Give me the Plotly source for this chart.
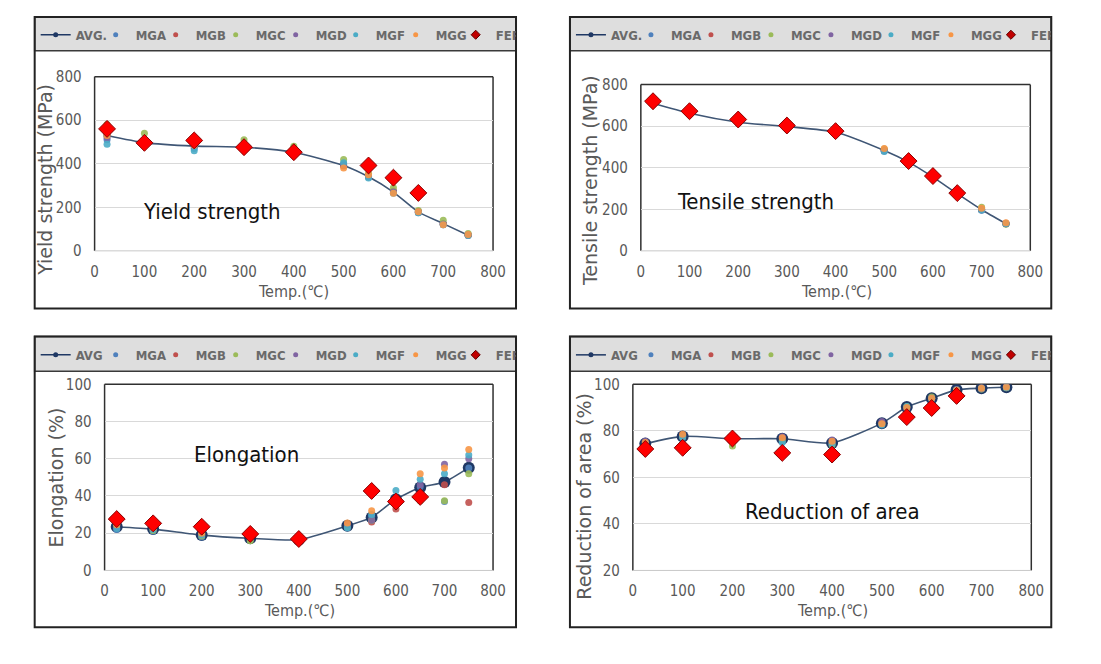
import plotly.graph_objects as go

# The page keeps the browser's default 8px body margin, so the figure is made
# 16px smaller than the window. Layout positions below are given in picture pixels
# and mapped to page pixels with the small scale/offset measured on the photograph.
PAGE_W, PAGE_H = 1101, 664
OFF = 8
W, H = PAGE_W - 2 * OFF, PAGE_H - 2 * OFF
SX, CX = 0.9857, 3.4
SY, CY = 0.9765, 8.3

# ---------------- data ----------------
temp = [25, 100, 200, 300, 400, 500, 550, 600, 650, 700, 750]

ys_avg = [530, 497, 481, 476, 453, 392, 340, 270, 179, 125, 72]
ys_mga = [510, 495, 470, 470, 450, 400, 340, 270, 175, 120, 75]
ys_mgb = [540, 500, 490, 475, 455, 390, 345, 275, 180, 125, 72]
ys_mgc = [580, 540, 500, 510, 480, 420, 355, 290, 185, 140, 80]
ys_mgd = [520, 495, 480, 475, 450, 395, 340, 270, 178, 122, 73]
ys_mgf = [490, 490, 460, 465, 445, 405, 335, 265, 175, 120, 70]
ys_mgg = [530, 500, 485, 475, 455, 380, 350, 265, 180, 120, 75]
ys_fep = [560, 496, 507, 476, 453, None, 392, 336, 266, None, None]

ts_avg = [710, 662, 619, 598, 571, 483, 427, 355, 275, 198, 131]
ts_mga = [705, 660, 615, 595, 570, 480, 425, 355, 275, 195, 130]
ts_mgb = [715, 665, 620, 600, 572, 485, 430, 358, 278, 200, 133]
ts_mgc = [712, 664, 622, 600, 575, 490, 428, 352, 272, 210, 128]
ts_mgd = [708, 660, 618, 597, 570, 482, 425, 354, 274, 198, 131]
ts_mgf = [706, 658, 616, 596, 568, 478, 426, 356, 276, 196, 132]
ts_mgg = [714, 666, 622, 600, 573, 492, 430, 357, 277, 205, 135]
ts_fep = [720, 672, 632, 603, 576, None, 432, 360, 278, None, None]

el_avg = [23.5, 22.2, 19.0, 17.3, 16.5, 24.0, 28.5, 38.3, 44.5, 47.5, 55.2]
el_mga = [22.0, 21.0, 18.0, 16.5, 16.0, 23.0, 29.0, 37.0, 45.0, 37.0, 55.0]
el_mgb = [24.0, 22.0, 19.0, 17.0, 17.0, 24.0, 26.0, 33.0, 40.0, 46.0, 36.5]
el_mgc = [25.0, 21.5, 18.5, 16.0, 16.0, 23.5, 27.0, 36.0, 37.5, 37.5, 52.0]
el_mgd = [23.0, 22.5, 19.5, 18.0, 16.5, 24.5, 27.0, 38.0, 46.0, 57.0, 60.0]
el_mgf = [22.5, 22.0, 19.0, 17.5, 17.0, 23.0, 30.0, 43.0, 49.0, 52.0, 62.0]
el_mgg = [24.5, 23.0, 20.0, 18.0, 17.0, 25.5, 32.0, 39.0, 52.0, 55.0, 65.0]
el_fep = [27.6, 25.3, 23.5, 19.6, 16.9, None, 42.7, 37.0, 39.5, None, None]

ra_avg = [74.5, 77.6, 76.6, 76.6, 74.8, 83.3, 90.2, 94.0, 97.6, 98.3, 98.7]
ra_mga = [75.0, 77.0, 76.0, 75.5, 74.0, 83.0, 89.5, 93.5, 97.0, 98.0, 98.5]
ra_mgb = [74.0, 78.0, 77.5, 77.0, 75.0, 83.5, 90.0, 94.0, 97.5, 98.5, 99.0]
ra_mgc = [73.5, 77.5, 73.5, 76.0, 74.0, 83.0, 90.5, 94.5, 97.5, 98.0, 98.5]
ra_mgd = [75.5, 78.0, 76.5, 77.5, 76.0, 84.0, 90.0, 94.0, 97.8, 98.2, 98.8]
ra_mgf = [74.0, 77.5, 76.0, 75.0, 74.5, 82.5, 90.5, 94.0, 97.5, 98.4, 98.6]
ra_mgg = [75.0, 78.5, 78.0, 77.0, 75.5, 83.0, 90.0, 94.0, 97.4, 98.3, 98.8]
ra_fep = [72.2, 72.7, 76.7, 70.5, 69.8, None, 85.9, 89.8, 95.0, None, None]

series_names = ["MGA", "MGB", "MGC", "MGD", "MGF", "MGG"]
series_colors = ["#4f81bd", "#c0504d", "#9bbb59", "#8064a2", "#4bacc6", "#f79646"]

x_ticks = [0, 100, 200, 300, 400, 500, 600, 700, 800]
x_title = "Temp.(℃)"

# ---------------- style ----------------
NARROW = "Liberation Sans Narrow, Arial Narrow, DejaVu Sans Condensed, sans-serif"
WIDE = "DejaVu Sans, Verdana, sans-serif"
TICK_COLOR = "#595959"

panels = [
    dict(avg_name="AVG.", avg=ys_avg, mg=[ys_mga, ys_mgb, ys_mgc, ys_mgd, ys_mgf, ys_mgg], fep=ys_fep,
         yrange=[0, 800], ytick=[0, 200, 400, 600, 800], ytitle="Yield strength (MPa)", label="Yield strength",
         box=(34, 16, 516, 309), bar=34, plot=(94, 76, 493, 251), ytitle_xy=(45, 180), xtitle_xy=(293, 292),
         label_xy=(212, 211), avg_size=7),
    dict(avg_name="AVG.", avg=ts_avg, mg=[ts_mga, ts_mgb, ts_mgc, ts_mgd, ts_mgf, ts_mgg], fep=ts_fep,
         yrange=[0, 800], ytick=[0, 200, 400, 600, 800], ytitle="Tensile strength (MPa)", label="Tensile strength",
         box=(570, 16, 1052, 309), bar=34, plot=(641, 84, 1031, 251), ytitle_xy=(590, 180), xtitle_xy=(837, 292),
         label_xy=(756, 201), avg_size=7),
    dict(avg_name="AVG", avg=el_avg, mg=[el_mga, el_mgb, el_mgc, el_mgd, el_mgf, el_mgg], fep=el_fep,
         yrange=[0, 100], ytick=[0, 20, 40, 60, 80, 100], ytitle="Elongation (%)", label="Elongation",
         box=(34, 337, 516, 629), bar=35, plot=(104, 385, 493, 572), ytitle_xy=(55, 479), xtitle_xy=(299, 612),
         label_xy=(246, 456), avg_size=12),
    dict(avg_name="AVG", avg=ra_avg, mg=[ra_mga, ra_mgb, ra_mgc, ra_mgd, ra_mgf, ra_mgg], fep=ra_fep,
         yrange=[20, 100], ytick=[20, 40, 60, 80, 100], ytitle="Reduction of area (%)", label="Reduction of area",
         box=(570, 337, 1052, 629), bar=35, plot=(633, 385, 1032, 572), ytitle_xy=(584, 497), xtitle_xy=(833, 612),
         label_xy=(833, 513), avg_size=12),
]


def fx(px):
    page = (px - CX) / SX
    return (page - OFF) / W


def fy(py):
    page = (py - CY) / SY
    return 1 - (page - OFF) / H


fig = go.Figure()
shapes = []
annotations = []
layout = dict(
    width=W, height=H, margin=dict(l=0, r=0, t=0, b=0),
    paper_bgcolor="white", plot_bgcolor="white", showlegend=True,
)

for i, p in enumerate(panels):
    n = "" if i == 0 else str(i + 1)
    xa, ya = "x" + n, "y" + n
    leg = "legend" + n
    x0, y0, x1, y1 = p["plot"]
    bx0, by0, bx1, by1 = p["box"]

    # --- data traces ---
    fig.add_trace(go.Scatter(
        x=temp, y=p["avg"], mode="lines+markers", name=p["avg_name"], xaxis=xa, yaxis=ya,
        line=dict(color="#3f5675", width=1.6, shape="spline", smoothing=0.6),
        marker=dict(color="#1f3864", size=p["avg_size"]), showlegend=False, legend=leg))
    for nm, col, vals in zip(series_names, series_colors, p["mg"]):
        fig.add_trace(go.Scatter(
            x=temp, y=vals, mode="markers", name=nm, xaxis=xa, yaxis=ya,
            marker=dict(color=col, size=7, opacity=0.9), showlegend=False, legend=leg))
    fig.add_trace(go.Scatter(
        x=temp, y=p["fep"], mode="markers", name="FEP", xaxis=xa, yaxis=ya,
        marker=dict(color="#ff0000", size=13, symbol="diamond", line=dict(color="#8b0000", width=1)),
        showlegend=False, legend=leg))

    # --- legend-only traces (small symbols as in the original legend) ---
    fig.add_trace(go.Scatter(
        x=[None], y=[None], mode="lines+markers", name=p["avg_name"], xaxis=xa, yaxis=ya,
        line=dict(color="#1f3864", width=1.5), marker=dict(color="#1f3864", size=5), legend=leg))
    for nm, col in zip(series_names, series_colors):
        fig.add_trace(go.Scatter(
            x=[None], y=[None], mode="markers", name=nm, xaxis=xa, yaxis=ya,
            marker=dict(color=col, size=5), legend=leg))
    fig.add_trace(go.Scatter(
        x=[None], y=[None], mode="markers", name="FEP", xaxis=xa, yaxis=ya,
        marker=dict(color="#c00000", size=7, symbol="diamond", line=dict(color="#600000", width=1)),
        legend=leg))

    layout["xaxis" + n] = dict(
        domain=[fx(x0), fx(x1)], anchor=ya, range=[0, 800], tickvals=x_ticks,
        showgrid=False, zeroline=False, showline=False, ticks="",
        tickfont=dict(family=NARROW, size=15, color=TICK_COLOR), ticklabelstandoff=10)
    layout["yaxis" + n] = dict(
        domain=[fy(y1), fy(y0)], anchor=xa, range=p["yrange"], tickvals=p["ytick"],
        showgrid=True, gridcolor="#d9d9d9", gridwidth=1, zeroline=False, showline=False, ticks="",
        tickfont=dict(family=NARROW, size=15, color=TICK_COLOR), ticklabelstandoff=12)

    layout[leg] = dict(
        orientation="h", x=fx(bx0 + 1), y=fy(by0 + p["bar"] / 2 + 1), xanchor="left", yanchor="middle",
        bgcolor="rgba(0,0,0,0)", borderwidth=0, entrywidth=15, entrywidthmode="pixels",
        itemwidth=30, font=dict(family=NARROW, size=13, color="#6a6a6a", weight="bold"), tracegroupgap=0)

    # --- outer frame and legend bar ---
    shapes.append(dict(type="rect", xref="paper", yref="paper", x0=fx(bx0), x1=fx(bx1),
                       y0=fy(by0 + p["bar"]), y1=fy(by0), fillcolor="#dedede",
                       line=dict(color="#3a3a3a", width=1.5), layer="below"))
    shapes.append(dict(type="rect", xref="paper", yref="paper", x0=fx(bx0), x1=fx(bx1),
                       y0=fy(by1), y1=fy(by0), fillcolor="rgba(0,0,0,0)",
                       line=dict(color="#222222", width=2), layer="above"))
    # --- plot area frame (dark left/top/right, light bottom) ---
    for (ax0, ay0, ax1, ay1) in [(x0, y0, x1, y0), (x0, y0, x0, y1), (x1, y0, x1, y1)]:
        shapes.append(dict(type="line", xref="paper", yref="paper", x0=fx(ax0), x1=fx(ax1),
                           y0=fy(ay0), y1=fy(ay1), line=dict(color="#303030", width=1.5), layer="below"))
    shapes.append(dict(type="line", xref="paper", yref="paper", x0=fx(x0), x1=fx(x1),
                       y0=fy(y1), y1=fy(y1), line=dict(color="#c8c8c8", width=1), layer="below"))

    # --- titles and in-plot label ---
    tx, ty = p["ytitle_xy"]
    annotations.append(dict(xref="paper", yref="paper", x=fx(tx), y=fy(ty), text=p["ytitle"],
                            textangle=-90, showarrow=False, xanchor="center", yanchor="middle",
                            font=dict(family=WIDE, size=19, color=TICK_COLOR)))
    tx, ty = p["xtitle_xy"]
    annotations.append(dict(xref="paper", yref="paper", x=fx(tx), y=fy(ty), text=x_title,
                            showarrow=False, xanchor="center", yanchor="middle",
                            font=dict(family=NARROW, size=16, color=TICK_COLOR)))
    tx, ty = p["label_xy"]
    annotations.append(dict(xref="paper", yref="paper", x=fx(tx), y=fy(ty), text=p["label"],
                            showarrow=False, xanchor="center", yanchor="middle",
                            font=dict(family=NARROW, size=22, color="#111111")))

layout["shapes"] = shapes
layout["annotations"] = annotations
fig.update_layout(**layout)
fig.write_html("out.html", config={"displayModeBar": False})
